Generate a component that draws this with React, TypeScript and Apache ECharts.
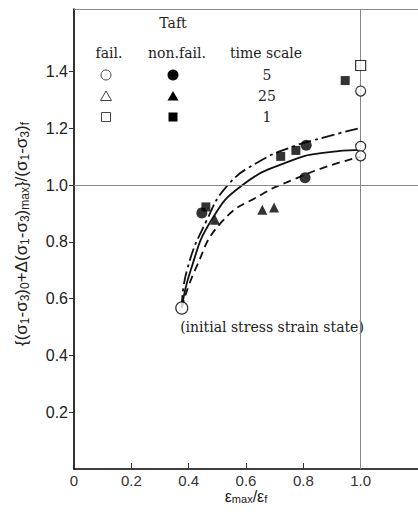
import React, { useEffect, useRef } from "react";
import * as echarts from "echarts";

// ---- data ----
const xLabelValues = [0, 0.2, 0.4, 0.6, 0.8, 1.0];
const xTickValues = [0.2, 0.4, 0.6, 0.8];
const yLabelValues = [0.2, 0.4, 0.6, 0.8, 1.0, 1.2, 1.4];
const X_MAX = 1.2;
const Y_MAX = 1.62;

const initialState = [[0.376, 0.567]];
const failCircle = [
  [1.0, 1.331],
  [1.0, 1.136],
  [1.0, 1.103],
];
const failSquare = [[1.0, 1.421]];
const nonFailCircle = [
  [0.446, 0.902],
  [0.81, 1.14],
  [0.806, 1.026],
];
const nonFailTriangle = [
  [0.492, 0.878],
  [0.657, 0.913],
  [0.698, 0.921],
];
const nonFailSquare = [
  [0.46, 0.923],
  [0.721, 1.101],
  [0.774, 1.122],
  [0.946, 1.368],
];

const curveDashDot = [
  [0.376, 0.567],
  [0.394, 0.7],
  [0.463, 0.876],
  [0.537, 1.0],
  [0.643, 1.081],
  [0.76, 1.134],
  [0.876, 1.169],
  [0.995, 1.2],
];
const curveSolid = [
  [0.376, 0.567],
  [0.407, 0.7],
  [0.478, 0.874],
  [0.588, 1.0],
  [0.76, 1.087],
  [0.876, 1.114],
  [1.0, 1.124],
];
const curveDashed = [
  [0.376, 0.567],
  [0.422, 0.7],
  [0.515, 0.87],
  [0.66, 0.97],
  [0.76, 1.017],
  [0.876, 1.063],
  [1.0, 1.1],
];

const legendHeaders = ["fail.", "non.fail.", "time scale"];
const timeScales = ["5", "25", "1"];
const yTitle = "{(σ{s|1}-σ{s|3}){s|0}+Δ(σ{s|1}-σ{s|3}){s|max}}/(σ{s|1}-σ{s|3}){s|f}";
const xTitle = "ε{s|max}/ε{s|f}";

const SERIF = "DejaVu Serif";
const SANS = "Liberation Sans";

function buildOption() {
  const lineSeries = (data: number[][], type: any) => ({
    type: "line",
    data,
    smooth: 0.5,
    showSymbol: false,
    symbol: "none",
    z: 3,
    silent: true,
    lineStyle: { color: "#111", width: 1.8, type },
  });
  const scatter = (data: number[][], symbol: string, size: number, filled: boolean) => ({
    type: "scatter",
    data,
    symbol,
    symbolSize: size,
    z: 5,
    silent: true,
    itemStyle: filled
      ? { color: "#000", borderColor: "#000", borderWidth: 0 }
      : { color: "#fff", borderColor: "#000", borderWidth: 1.2 },
  });

  // legend graphic
  const colX = [106, 173];
  const rowY = [75, 96, 117];
  const g: any[] = [];
  g.push({
    type: "text",
    x: 173,
    y: 23,
    style: { text: "Taft", font: `14px "${SERIF}"`, fill: "#222", align: "center", verticalAlign: "middle" },
  });
  const headX = [109, 177, 266];
  legendHeaders.forEach((t, i) =>
    g.push({
      type: "text",
      x: headX[i],
      y: 53,
      style: { text: t, font: `14px "${SERIF}"`, fill: "#222", align: "center", verticalAlign: "middle" },
    })
  );
  timeScales.forEach((t, i) =>
    g.push({
      type: "text",
      x: 267,
      y: rowY[i],
      style: { text: t, font: `14px "${SERIF}"`, fill: "#222", align: "center", verticalAlign: "middle" },
    })
  );
  colX.forEach((cx, ci) => {
    const filled = ci === 1;
    const st = filled
      ? { fill: "#000", stroke: "#000", lineWidth: 0 }
      : { fill: "#fff", stroke: "#444", lineWidth: 1 };
    g.push({ type: "circle", shape: { cx, cy: rowY[0], r: filled ? 5.5 : 5 }, style: st });
    g.push({
      type: "polygon",
      shape: { points: [[cx, rowY[1] - 5], [cx - 5.5, rowY[1] + 4.5], [cx + 5.5, rowY[1] + 4.5]] },
      style: st,
    });
    g.push({ type: "rect", shape: { x: cx - 4.5, y: rowY[2] - 4.5, width: 9, height: 9 }, style: st });
  });
  g.push({
    type: "text",
    x: 272,
    y: 327,
    style: {
      text: "(initial stress strain state)",
      font: `14px "${SERIF}"`,
      fill: "#222",
      align: "center",
      verticalAlign: "middle",
    },
  });
  // y-axis title (rotated)
  g.push({
    type: "text",
    x: 21,
    y: 234,
    rotation: Math.PI / 2,
    style: {
      text: yTitle,
      fontFamily: SANS,
      fontSize: 17,
      lineHeight: 20,
      fill: "#222",
      align: "center",
      verticalAlign: "middle",
      rich: { s: { fontFamily: SANS, fontSize: 12, lineHeight: 12, verticalAlign: "bottom", fill: "#222" } },
    },
  });

  return {
    animation: false,
    backgroundColor: "#fff",
    grid: { left: 74, right: 0, top: 9, bottom: 58, containLabel: false },
    xAxis: {
      type: "value",
      min: 0,
      max: X_MAX,
      interval: 0.2,
      splitLine: { show: false },
      axisLine: { show: true, lineStyle: { color: "#000", width: 1.6 } },
      axisTick: {
        show: true,
        inside: true,
        length: 6,
        customValues: xTickValues,
        lineStyle: { color: "#333", width: 1 },
      },
      axisLabel: {
        customValues: xLabelValues,
        formatter: (v: number) => (v === 0 ? "0" : v.toFixed(1)),
        fontFamily: SANS,
        fontSize: 15,
        lineHeight: 15,
        color: "#333",
        margin: 4,
      },
      name: xTitle,
      nameLocation: "middle",
      nameGap: 19,
      nameMoveOverlap: false,
      nameTextStyle: {
        fontFamily: SANS,
        fontSize: 16,
        color: "#222",
        lineHeight: 16,
        rich: { s: { fontFamily: SANS, fontSize: 11, lineHeight: 11, verticalAlign: "bottom", color: "#222" } },
      },
    },
    yAxis: {
      type: "value",
      min: 0,
      max: Y_MAX,
      interval: 0.2,
      splitLine: { show: false },
      axisLine: { show: true, lineStyle: { color: "#000", width: 1.6 } },
      axisTick: {
        show: true,
        inside: false,
        length: 5,
        customValues: yLabelValues,
        lineStyle: { color: "#333", width: 1 },
      },
      axisLabel: {
        customValues: yLabelValues,
        formatter: (v: number) => v.toFixed(1),
        fontFamily: SANS,
        fontSize: 16,
        color: "#222",
        margin: 6,
      },
    },
    graphic: g,
    series: [
      {
        type: "line",
        data: [],
        silent: true,
        z: 1,
        markLine: {
          silent: true,
          symbol: "none",
          label: { show: false },
          lineStyle: { color: "#888", width: 1, type: "solid" },
          data: [{ xAxis: 1.0 }, { yAxis: 1.0 }, { yAxis: Y_MAX }],
        },
      },
      lineSeries(curveDashDot, [13, 4, 3, 4]),
      lineSeries(curveSolid, "solid"),
      lineSeries(curveDashed, [8, 5]),
      scatter(nonFailCircle, "circle", 11, true),
      scatter(nonFailTriangle, "triangle", 10, true),
      scatter(nonFailSquare, "rect", 9, true),
      scatter(failCircle, "circle", 10, false),
      scatter(failSquare, "rect", 10, false),
      scatter(initialState, "circle", 12, false),
    ],
  };
}

export default function App() {
  const ref = useRef<HTMLDivElement>(null);
  useEffect(() => {
    const chart = echarts.init(ref.current!, null, { renderer: "svg" });
    chart.setOption(buildOption() as any);
    return () => chart.dispose();
  }, []);
  return (
    <div
      ref={ref}
      style={{ position: "absolute", left: 0, top: 0, width: 418, height: 527, background: "#fff" }}
    />
  );
}
